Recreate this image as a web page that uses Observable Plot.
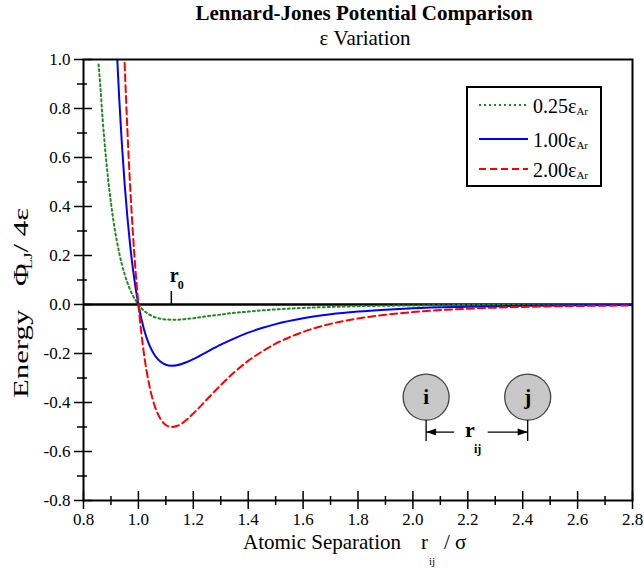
<!DOCTYPE html>
<html>
<head>
<meta charset="utf-8">
<script src="https://cdn.jsdelivr.net/npm/d3@7"></script>
<script src="https://cdn.jsdelivr.net/npm/@observablehq/plot@0.6"></script>
<style>
html, body { margin: 0; padding: 0; background: #fff; }
#chart { width: 644px; height: 568px; }
#chart svg text { font-family: "Liberation Serif", "Times New Roman", serif; }
</style>
</head>
<body>
<div id="chart"></div>
<script>
// ---- data ----
const separation = [0.855, 0.86, 0.87, 0.88, 0.89, 0.90, 0.91, 0.92, 0.93, 0.94, 0.95, 0.96, 0.97, 0.98, 0.99, 1.00,
  1.02, 1.04, 1.06, 1.08, 1.10, 1.12, 1.14, 1.16, 1.18, 1.20, 1.25, 1.30, 1.35, 1.40, 1.45, 1.50,
  1.60, 1.70, 1.80, 1.90, 2.00, 2.20, 2.40, 2.60, 2.80];
const energyEps025 = [0.98, 0.91, 0.753, 0.621, 0.509, 0.415, 0.335, 0.268, 0.211, 0.163, 0.123, 0.089, 0.060, 0.036, 0.017, 0.0,
  -0.025, -0.041, -0.052, -0.058, -0.061, -0.062, -0.062, -0.061, -0.058, -0.056, -0.048, -0.041, -0.034, -0.029, -0.024, -0.020,
  -0.014, -0.010, -0.007, -0.005, -0.004, -0.002, -0.001, -0.001, -0.001];
const energyEps100 = [null, null, null, null, null, null, 1.34, 1.07, 0.843, 0.652, 0.490, 0.355, 0.241, 0.146, 0.066, 0.0,
  -0.100, -0.166, -0.208, -0.233, -0.246, -0.250, -0.248, -0.242, -0.233, -0.223, -0.193, -0.164, -0.138, -0.115, -0.096, -0.080,
  -0.056, -0.040, -0.029, -0.021, -0.015, -0.009, -0.005, -0.003, -0.002];
const energyEps200 = [null, null, null, null, null, null, null, null, null, 1.30, 0.981, 0.709, 0.481, 0.291, 0.132, 0.0,
  -0.199, -0.331, -0.416, -0.466, -0.492, -0.500, -0.496, -0.484, -0.466, -0.445, -0.387, -0.329, -0.276, -0.230, -0.192, -0.160,
  -0.112, -0.079, -0.057, -0.042, -0.031, -0.017, -0.010, -0.006, -0.004];
const seriesLabels = ["0.25", "1.00", "2.00"];
const xMajorTicks = [0.8, 1.0, 1.2, 1.4, 1.6, 1.8, 2.0, 2.2, 2.4, 2.6, 2.8];
const xMinorTicks = [0.9, 1.1, 1.3, 1.5, 1.7, 1.9, 2.1, 2.3, 2.5, 2.7];
const yMajorTicks = [-0.8, -0.6, -0.4, -0.2, 0.0, 0.2, 0.4, 0.6, 0.8, 1.0];
const yMinorTicks = [-0.7, -0.5, -0.3, -0.1, 0.1, 0.3, 0.5, 0.7, 0.9];
const r0Value = 1.12;
const atomSeparationMarks = [2.05, 2.42];
const atomLevel = -0.38;

// ---- styling ----
const FONT = "'Liberation Serif', 'Times New Roman', serif";
const GREEN = "#1e8b1e", BLUE = "#0000ff", RED = "#ff0000";
const seriesStyles = [
  {stroke: GREEN, dash: "2,3"},
  {stroke: BLUE, dash: null},
  {stroke: RED, dash: "7,4"}
];

function rowsFor(values) {
  return separation.map((r, i) => ({r, v: values[i]})).filter(d => d.v != null);
}
const seriesRows = [rowsFor(energyEps025), rowsFor(energyEps100), rowsFor(energyEps200)];

const lineMarks = seriesRows.map((rows, k) => Plot.line(rows, {
  x: "r", y: "v", stroke: seriesStyles[k].stroke, strokeWidth: 2,
  strokeDasharray: seriesStyles[k].dash, curve: "monotone-x", clip: true
}));

const plot = Plot.plot({
  width: 644, height: 568,
  marginLeft: 83, marginRight: 12, marginTop: 59, marginBottom: 68,
  x: {domain: [0.8, 2.8]},
  y: {domain: [-0.8, 1.0]},
  style: {fontFamily: FONT, fontSize: "17px", color: "black", background: "white", overflow: "visible"},
  marks: [
    Plot.ruleY([0], {stroke: "black", strokeWidth: 2.5}),
    ...lineMarks,
    Plot.ruleX([r0Value], {x: d => d, y1: 0, y2: 0, insetTop: -13, insetBottom: 0, stroke: "black", strokeWidth: 1.5}),
    Plot.frame({stroke: "black", strokeWidth: 2}),
    Plot.ruleX(xMajorTicks, {x: d => d, y1: -0.8, y2: -0.8, insetTop: -9, insetBottom: -9, stroke: "black", strokeWidth: 1.5}),
    Plot.ruleX(xMinorTicks, {x: d => d, y1: -0.8, y2: -0.8, insetTop: -4, insetBottom: -5, stroke: "black", strokeWidth: 1.5}),
    Plot.ruleY(yMajorTicks, {y: d => d, x1: 0.8, x2: 0.8, insetLeft: -9, insetRight: -9, stroke: "black", strokeWidth: 1.5}),
    Plot.ruleY(yMinorTicks, {y: d => d, x1: 0.8, x2: 0.8, insetLeft: -6, insetRight: -4, stroke: "black", strokeWidth: 1.5}),
    Plot.axisX(xMajorTicks, {tickSize: 0, tickPadding: 12, tickFormat: d => d.toFixed(1), label: null}),
    Plot.axisY(yMajorTicks, {tickSize: 0, tickPadding: 13, tickFormat: d => d.toFixed(1), label: null})
  ]
});
document.getElementById("chart").appendChild(plot);

// ---- annotations using the plot's own scales ----
const X = plot.scale("x"), Y = plot.scale("y");
const svg = d3.select(plot);
const g = svg.append("g").attr("font-family", FONT).attr("fill", "black").attr("text-anchor", "start");

function txt(parent, x, y, s, size, opts = {}) {
  return parent.append("text").attr("x", x).attr("y", y).attr("font-size", size)
    .attr("font-weight", opts.weight || "normal").attr("text-anchor", opts.anchor || "start").text(s);
}

// title and subtitle
txt(g, 364, 20, "Lennard-Jones Potential Comparison", 21, {weight: "bold", anchor: "middle"});
txt(g, 365, 45, "\u03b5 Variation", 21, {anchor: "middle"});

// x axis label
txt(g, 243, 549, "Atomic Separation", 21);
txt(g, 421, 549, "r", 21);
txt(g, 429, 565, "ij", 11);
txt(g, 444, 549, "/ \u03c3", 21);

// y axis label (rotated, stretched along its length like the reference)
const yl = g.append("g").attr("transform", "translate(28,398) rotate(-90) scale(1.4,1)");
txt(yl, 0, 0, "Energy", 22);
txt(yl, 80, 0, "\u03a6", 22);
txt(yl, 92, 4, "LJ", 12);
txt(yl, 104, 0, "/ 4\u03b5", 22);

// r0 label
const r0x = X.apply(r0Value), zeroY = Y.apply(0);
txt(g, r0x - 1, zeroY - 22, "r", 20, {weight: "bold"});
txt(g, r0x + 7, zeroY - 15, "0", 12, {weight: "bold"});

// legend
const lg = g.append("g");
lg.append("rect").attr("x", 467).attr("y", 87).attr("width", 134).attr("height", 99)
  .attr("fill", "white").attr("stroke", "black").attr("stroke-width", 2);
const rowY = [105, 139, 169];
seriesLabels.forEach((lab, k) => {
  lg.append("line").attr("x1", 479).attr("x2", 528).attr("y1", rowY[k]).attr("y2", rowY[k])
    .attr("stroke", seriesStyles[k].stroke).attr("stroke-width", 2)
    .attr("stroke-dasharray", seriesStyles[k].dash);
  const t = lg.append("text").attr("x", 533).attr("y", rowY[k] + 8).attr("font-size", 20).attr("text-anchor", "start");
  t.append("tspan").text(lab + "\u03b5");
  t.append("tspan").attr("font-size", 11).attr("dy", 2).text("Ar");
});

// atom diagram
const cy = Y.apply(atomLevel);
const ax = atomSeparationMarks.map(v => X.apply(v));
const dg = g.append("g");
["i", "j"].forEach((lab, k) => {
  dg.append("circle").attr("cx", ax[k]).attr("cy", cy).attr("r", 23)
    .attr("fill", "#c8c8c8").attr("stroke", "#444").attr("stroke-width", 1.3);
  txt(dg, ax[k], cy + 7, lab, 21, {weight: "bold", anchor: "middle"});
  dg.append("line").attr("x1", ax[k]).attr("x2", ax[k]).attr("y1", cy + 23).attr("y2", cy + 44)
    .attr("stroke", "black").attr("stroke-width", 1.3);
});
const ay = cy + 35;
dg.append("line").attr("x1", ax[0]).attr("x2", ax[0] + 28).attr("y1", ay).attr("y2", ay).attr("stroke", "black").attr("stroke-width", 1.3);
dg.append("line").attr("x1", ax[1] - 40).attr("x2", ax[1]).attr("y1", ay).attr("y2", ay).attr("stroke", "black").attr("stroke-width", 1.3);
dg.append("path").attr("d", `M${ax[0]},${ay} l10,-3.5 l0,7 z`).attr("fill", "black");
dg.append("path").attr("d", `M${ax[1]},${ay} l-10,-3.5 l0,7 z`).attr("fill", "black");
txt(dg, (ax[0] + ax[1]) / 2 - 12, ay + 5, "r", 22, {weight: "bold"});
txt(dg, (ax[0] + ax[1]) / 2 - 3, ay + 21, "ij", 12, {weight: "bold"});
</script>
</body>
</html>
